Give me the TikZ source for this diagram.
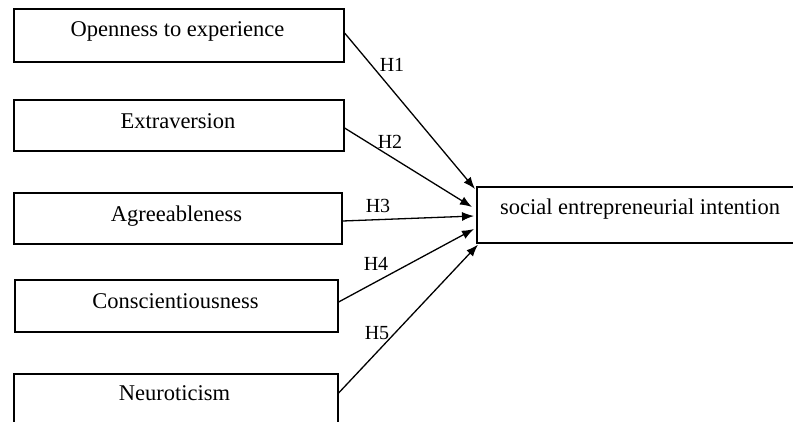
\documentclass[tikz,border=0pt]{standalone}
\usepackage{fontspec}
\setmainfont{Liberation Serif}
\usetikzlibrary{arrows.meta,calc}
\begin{document}
\begin{tikzpicture}[x=1pt,y=-1pt,
  box/.style={draw=black, line width=1.6pt, rectangle, inner sep=0pt, anchor=north west},
  txt/.style={font=\fontsize{22.5}{27}\selectfont, anchor=base, inner sep=0pt},
  hlbl/.style={font=\fontsize{20}{24}\selectfont, anchor=base, inner sep=0pt},
  link/.style={draw=black, line width=1.3pt, -{Latex[length=12pt,width=9pt]}}]
\useasboundingbox (0,0) rectangle (793,421);
% boxes
\node[box, minimum width=330pt, minimum height=53pt] (b1) at (13,8) {};
\node[box, minimum width=330pt, minimum height=51pt] (b2) at (13,99) {};
\node[box, minimum width=328pt, minimum height=51pt] (b3) at (13,192) {};
\node[box, minimum width=323pt, minimum height=52pt] (b4) at (14,279) {};
\node[box, minimum width=324pt, minimum height=52pt] (b5) at (13,373) {};
\node[box, minimum width=340pt, minimum height=56pt] (st) at (476,186) {};
% texts
\node[txt] (t1) at (177.5,36) {Openness to experience};
\node[txt] (t2) at (178,128) {Extraversion};
\node[txt] (t3) at (176.5,221) {Agreeableness};
\node[txt] (t4) at (175.5,308) {Conscientiousness};
\node[txt] (t5) at (174.5,400.5) {Neuroticism};
\node[txt] (ts) at (640,214) {social entrepreneurial intention};
% arrows
\draw[link] ($(b1.north east)+(0,25)$) -- ($(st.north west)+(-1,3)$);
\draw[link] ($(b2.north east)+(0,29)$) -- ($(st.north west)+(-4,21)$);
\draw[link] ($(b3.north east)+(0,29)$) -- ($(st.north west)+(-2,30)$);
\draw[link] ($(b4.north east)+(0,23)$) -- ($(st.north west)+(-2,43)$);
\draw[link] ($(b5.north east)+(0,20)$) -- ($(st.south west)+(2,1)$);
% labels
\node[hlbl] (h1) at (392,71) {H1};
\node[hlbl] (h2) at (390,148) {H2};
\node[hlbl] (h3) at (378,212) {H3};
\node[hlbl] (h4) at (376,270) {H4};
\node[hlbl] (h5) at (377,339) {H5};
\end{tikzpicture}
\end{document}
